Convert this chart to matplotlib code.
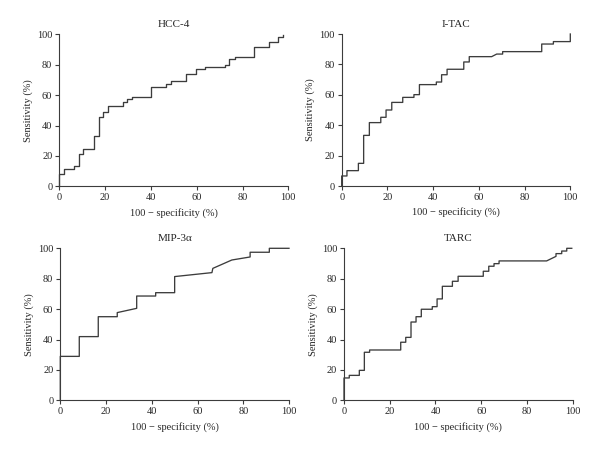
import matplotlib
matplotlib.use("Agg")
import matplotlib.pyplot as plt

plt.rcParams['font.family'] = ['Liberation Serif', 'DejaVu Serif']

titles = ["HCC-4", "I-TAC", "MIP-3\u03b1", "TARC"]
xlabel = "100 \u2212 specificity (%)"
ylabel = "Sensitivity (%)"
ticks = [0, 20, 40, 60, 80, 100]

# ROC vertices (100 - specificity, sensitivity)
hcc4_fpr = [0, 0, 2.2, 2.2, 6.4, 6.4, 8.4, 8.4, 10.3, 10.3, 15, 15, 17.2, 17.2,
            19.2, 19.2, 21.4, 21.4, 27.7, 27.7, 29.5, 29.5, 31.7, 31.7, 40.2, 40.2,
            46.6, 46.6, 48.8, 48.8, 55.2, 55.2, 59.5, 59.5, 63.8, 63.8, 72.2, 72.2,
            74.2, 74.2, 76.6, 76.6, 85, 85, 91.4, 91.4, 95.5, 95.5, 97.6, 97.6]
hcc4_tpr = [0, 8.1, 8.1, 11.4, 11.4, 13.4, 13.4, 21, 21, 24.6, 24.6, 32.9, 32.9, 45.8,
            45.8, 48.9, 48.9, 52.6, 52.6, 55.7, 55.7, 57.5, 57.5, 59, 59, 65.6,
            65.6, 67.1, 67.1, 69.1, 69.1, 73.7, 73.7, 77, 77, 78.5, 78.5, 80,
            80, 83.6, 83.6, 85.1, 85.1, 91.7, 91.7, 95, 95, 98.2, 98.2, 99.6]

itac_fpr = [0, 0, 2.3, 2.3, 7.3, 7.3, 9.6, 9.6, 12.1, 12.1, 17.1, 17.1, 19.4, 19.4,
            21.9, 21.9, 26.7, 26.7, 31.6, 31.6, 34, 34, 41.4, 41.4, 43.7, 43.7,
            46.1, 46.1, 53.4, 53.4, 55.8, 55.8, 65.6, 67.8, 70.4, 70.4, 87.5, 87.5,
            92.6, 92.6, 100, 100]
itac_tpr = [0, 6.6, 6.6, 10.1, 10.1, 14.9, 14.9, 33.3, 33.3, 41.7, 41.7, 45.2, 45.2, 50,
            50, 55, 55, 58.3, 58.3, 60.1, 60.1, 66.7, 66.7, 68.4, 68.4, 73.2,
            73.2, 76.8, 76.8, 81.6, 81.6, 85.1, 85.1, 86.8, 86.8, 88.4, 88.4, 93.4,
            93.4, 95, 95, 100]

mip3a_fpr = [0, 0, 8.3, 8.3, 16.6, 16.6, 24.9, 24.9, 33.4, 33.4, 41.7, 41.7, 50, 50,
             66.3, 66.7, 75, 83, 83, 91.4, 91.4, 100]
mip3a_tpr = [0, 28.9, 28.9, 41.9, 41.9, 55, 55, 57.7, 60.5, 68.6, 68.6, 70.8, 70.8, 81.4,
             84, 86.8, 92.3, 94.3, 97.4, 97.4, 100, 100]

tarc_fpr = [0, 0, 2.3, 2.3, 6.7, 6.7, 8.9, 8.9, 11.2, 11.2, 24.8, 24.8, 27, 27,
            29.3, 29.3, 31.5, 31.5, 33.8, 33.8, 38.6, 38.6, 40.7, 40.7, 43, 43,
            47.4, 47.4, 49.9, 49.9, 60.9, 60.9, 63.3, 63.3, 65.6, 65.6, 67.8, 67.8,
            88.6, 92.7, 92.7, 95.2, 95.2, 97.4, 97.4, 99.6]
tarc_tpr = [0, 14.7, 14.7, 16.4, 16.4, 19.7, 19.7, 31.6, 31.6, 33.1, 33.1, 38.2, 38.2, 41.4,
            41.4, 51.5, 51.5, 55, 55, 59.9, 59.9, 61.6, 61.6, 66.7, 66.7, 75,
            75, 78.3, 78.3, 81.6, 81.6, 84.9, 84.9, 88.2, 88.2, 89.9, 89.9, 91.7,
            91.7, 94.7, 96.5, 96.5, 98.2, 98.2, 100, 100]

curves = [(hcc4_fpr, hcc4_tpr), (itac_fpr, itac_tpr),
          (mip3a_fpr, mip3a_tpr), (tarc_fpr, tarc_tpr)]

W, H = 600, 453
boxes_px = [(59.3, 34.3, 288.3, 186.3),
            (341.7, 34.0, 570.3, 186.0),
            (60.3, 248.3, 289.0, 400.3),
            (344.0, 248.3, 572.7, 400.3)]

fig = plt.figure(figsize=(6.0, 4.53), dpi=100)
line_col = "#3c3c3c"
text_col = "#262626"

for (x0, y0, x1, y1), title, (fpr, tpr) in zip(boxes_px, titles, curves):
    ax = fig.add_axes([x0 / W, 1 - y1 / H, (x1 - x0) / W, (y1 - y0) / H])
    ax.plot(fpr, tpr, color=line_col, lw=0.95, clip_on=False, zorder=3)
    ax.set_xlim(0, 100)
    ax.set_ylim(0, 100)
    ax.set_xticks(ticks)
    ax.set_yticks(ticks)
    for s in ["top", "right"]:
        ax.spines[s].set_visible(False)
    for s in ["left", "bottom"]:
        ax.spines[s].set_color(line_col)
        ax.spines[s].set_linewidth(0.8)
    ax.tick_params(direction="out", length=3, width=0.8, pad=2,
                   labelsize=7.5, colors=line_col, labelcolor=text_col)
    ax.set_title(title, fontsize=8, color=text_col, pad=5)
    ax.set_xlabel(xlabel, fontsize=7.5, color=text_col, labelpad=4)
    ax.set_ylabel(ylabel, fontsize=7.5, color=text_col, labelpad=3)

fig.savefig("out.png", dpi=100)
